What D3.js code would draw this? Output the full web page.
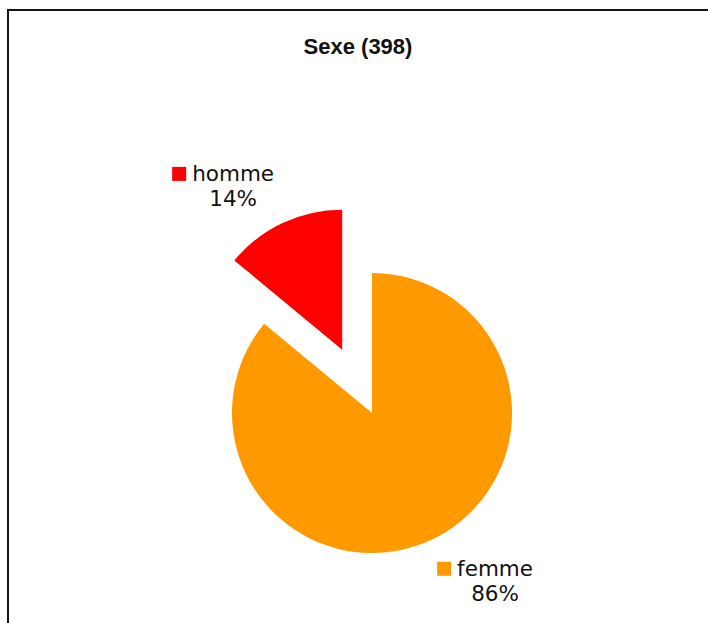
<!DOCTYPE html>
<meta charset="utf-8">
<html>
<head>
    <title>Sexe</title>
</head>
<style type="text/css">
    html, body{ margin: 0; background: #fff; overflow: hidden; }
    svg{ display: block; }
    text{ fill: #111; }
    .title{ font-family: "Liberation Sans", Arial, sans-serif; font-weight: bold; font-size: 22px; }
    .lbl{ font-family: "DejaVu Sans", Verdana, sans-serif; font-size: 21.5px; }
</style>
<script src="https://cdn.jsdelivr.net/npm/d3@7"></script>
<body>
<script type="text/javascript">
// chart data
var title = "Sexe (398)"
var categories = ["femme", "homme"]
var values = [86, 14]
var colors = ["#ff9900", "#ff0000"]
var pulledOut = "homme"

var svgWidth = 708
var svgHeight = 623
var cx = 372, cy = 413
var radius = 140
var pullDist = 70
var labelDist = 160

var data = categories.map((c, i) => ({name: c, value: values[i], color: colors[i]}))

var svg = d3.select("body").append("svg")
    .attr("width", svgWidth)
    .attr("height", svgHeight)

// frame (runs off the right and bottom edges)
svg.append("rect")
    .attr("x", 8).attr("y", 10)
    .attr("width", 900).attr("height", 900)
    .attr("fill", "#fff")
    .attr("stroke", "#151515")
    .attr("stroke-width", 2)

svg.append("text")
    .attr("class", "title")
    .attr("x", 358).attr("y", 54)
    .attr("text-anchor", "middle")
    .text(title)

var pie = d3.pie().sort(null).value(d => d.value)
var arc = d3.arc().innerRadius(0).outerRadius(radius)

var arcs = pie(data)
var g = svg.append("g").attr("transform", "translate(" + cx + "," + cy + ")")

function offset(d, dist){
    var a = (d.startAngle + d.endAngle) / 2
    return [Math.sin(a) * dist, -Math.cos(a) * dist]
}

var slice = g.selectAll(".slice")
    .data(arcs)
    .enter().append("g")
    .attr("class", "slice")
    .attr("transform", d => {
        var o = d.data.name == pulledOut ? offset(d, pullDist) : [0, 0]
        return "translate(" + o[0] + "," + o[1] + ")"
    })

slice.append("path")
    .attr("d", arc)
    .attr("fill", d => d.data.color)

// labels: square + name, percentage centred under the name
slice.each(function(d){
    var a = (d.startAngle + d.endAngle) / 2
    var p = offset(d, labelDist)
    var lab = d3.select(this).append("g")
    var name = lab.append("text").attr("class", "lbl").text(d.data.name)
    var tw = name.node().getComputedTextLength()
    var sq = 14, gap = 6
    var total = d3.sum(values)
    var pct = Math.round(d.data.value / total * 100) + "%"
    var blockW = sq + gap + tw
    var blockH = 42
    var x0 = Math.sin(a) >= 0 ? p[0] - 3 : p[0] - blockW
    var y0 = -Math.cos(a) >= 0 ? p[1] : p[1] - blockH
    lab.append("rect")
        .attr("x", x0).attr("y", y0 + 4)
        .attr("width", sq).attr("height", sq)
        .attr("fill", d.data.color)
    name.attr("x", x0 + sq + gap).attr("y", y0 + 18)
    lab.append("text").attr("class", "lbl")
        .attr("x", x0 + sq + gap + tw / 2).attr("y", y0 + 43)
        .attr("text-anchor", "middle")
        .text(pct)
})
</script>
</body>
</html>
